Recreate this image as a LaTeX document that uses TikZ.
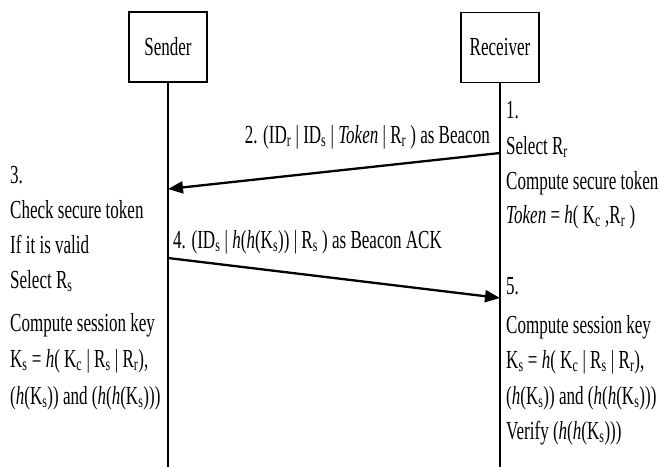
\documentclass[tikz,border=0pt]{standalone}
\usepackage{fontspec}
\setmainfont[FakeStretch=0.655]{Liberation Serif}
\usetikzlibrary{arrows.meta}
\begin{document}
\begin{tikzpicture}[x=1pt,y=-1pt,
  font=\fontsize{26}{30}\selectfont,
  actor/.style={draw, line width=1.6pt, minimum width=78pt, minimum height=70pt, inner sep=0pt},
  life/.style={line width=1.3pt},
  msg/.style={line width=2.3pt, -{Triangle[length=15pt,width=12pt]}},
  txt/.style={anchor=base west, inner sep=0pt}]
\useasboundingbox (0,0) rectangle (659,467);
% actors
\node[actor] (S) at (168,47) {Sender};
\node[actor] (R) at (500,47.5) {Receiver};
\coordinate (Send) at (168,467);
\coordinate (Rend) at (500,467);
\draw[life] (S.south) -- (Send);
\draw[life] (R.south) -- (Rend);
% messages
\coordinate (a2s) at (500,153);
\coordinate (a2e) at (168,189);
\coordinate (a4s) at (168,258);
\coordinate (a4e) at (500,298);
\draw[msg] (a2s) -- (a2e);
\draw[msg] (a4s) -- (a4e);
\node[txt, anchor=base east] (l2) at (490,143) {2. (ID\textsubscript{r} | ID\textsubscript{s} | \textit{Token} | R\textsubscript{r} ) as Beacon};
\node[txt] (l4) at (173,248) {4. (ID\textsubscript{s} | \textit{h}(\textit{h}(K\textsubscript{s})) | R\textsubscript{s} ) as Beacon ACK};
% sender text
\node[txt] (s1) at (10,183) {3.};
\node[txt] (s2) at (10,218) {Check secure token};
\node[txt] (s3) at (10,253) {If it is valid};
\node[txt] (s4) at (10,288) {Select R\textsubscript{s}};
\node[txt] (s5) at (10,331) {Compute session key};
\node[txt] (s6) at (10,367) {K\textsubscript{s} = \textit{h}( K\textsubscript{c} | R\textsubscript{s} | R\textsubscript{r}),};
\node[txt] (s7) at (10,404) {(\textit{h}(K\textsubscript{s})) and (\textit{h}(\textit{h}(K\textsubscript{s})))};
% receiver text
\node[txt] (r1) at (506,118) {1.};
\node[txt] (r2) at (506,154) {Select R\textsubscript{r}};
\node[txt] (r3) at (506,189) {Compute secure token};
\node[txt] (r4) at (506,223) {\textit{Token} = \textit{h}( K\textsubscript{c} ,R\textsubscript{r} )};
\node[txt] (r5) at (506,294) {5.};
\node[txt] (r6) at (506,333) {Compute session key};
\node[txt] (r7) at (506,368) {K\textsubscript{s} = \textit{h}( K\textsubscript{c} | R\textsubscript{s} | R\textsubscript{r}),};
\node[txt] (r8) at (506,404) {(\textit{h}(K\textsubscript{s})) and (\textit{h}(\textit{h}(K\textsubscript{s})))};
\node[txt] (r9) at (506,439) {Verify (\textit{h}(\textit{h}(K\textsubscript{s})))};
\end{tikzpicture}
\end{document}
